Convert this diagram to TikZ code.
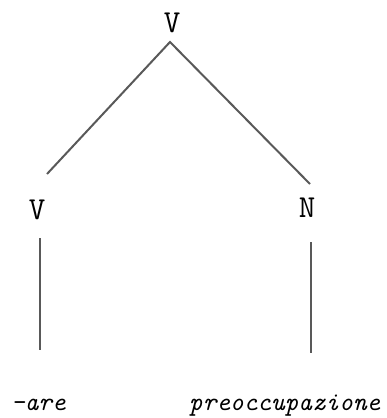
\documentclass[tikz,border=0pt]{standalone}
\usepackage{fontspec}
\begin{document}
\begin{tikzpicture}[x=1pt,y=-1pt,
  cat/.style={font=\ttfamily\fontsize{32}{32}\selectfont, inner sep=0pt, anchor=base},
  word/.style={font=\ttfamily\itshape\fontsize{26}{26}\selectfont, inner sep=0pt, anchor=base west},
  branch/.style={draw=black!65, line width=2pt}]
\useasboundingbox (0,0) rectangle (387,418);
\node[cat] (top) at (172,32) {V};
\node[cat] (lv) at (37,219) {V};
\node[cat] (rn) at (307,217) {N};
\node[word] (are) at (11,410) {-are};
\node[word] (preo) at (189,410) {preoccupazione};
\coordinate (apex) at (170,42);
\coordinate (lend) at (47,174);
\coordinate (rend) at (310,184);
\coordinate (lvtop) at (40,238);
\coordinate (lvbot) at (40,350);
\coordinate (rntop) at (311,242);
\coordinate (rnbot) at (311,353);
\draw[branch] (lend) -- (apex) -- (rend);
\draw[branch] (lvtop) -- (lvbot);
\draw[branch] (rntop) -- (rnbot);
\end{tikzpicture}
\end{document}
